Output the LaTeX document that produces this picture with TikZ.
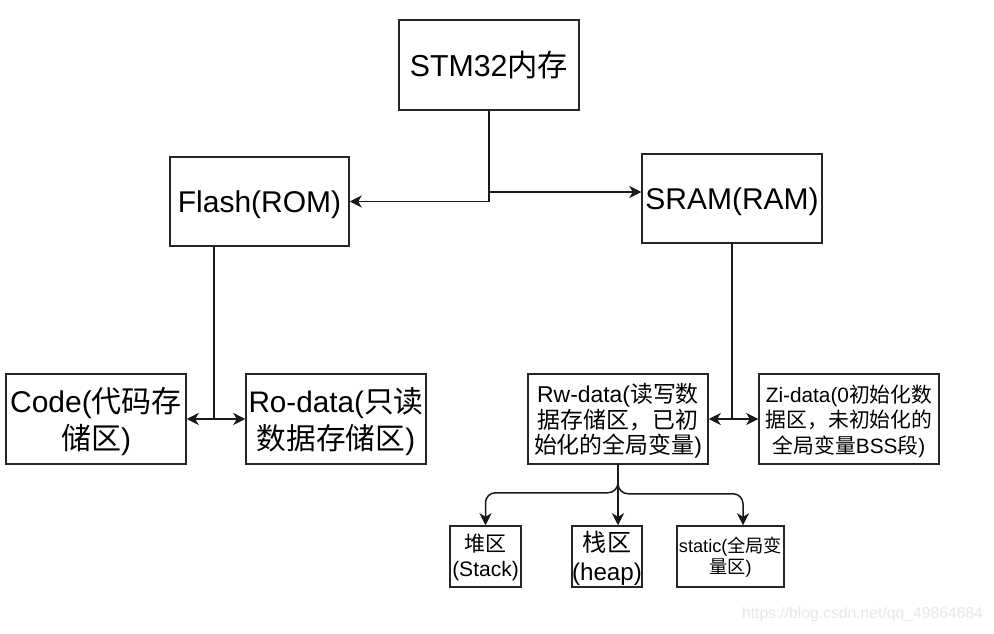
\documentclass[tikz,border=0pt]{standalone}
\usepackage{fontspec}
\setmainfont{Liberation Sans}
\newfontfamily\cjk{Noto Sans CJK SC}
\usetikzlibrary{arrows.meta}
\begin{document}
\begin{tikzpicture}[x=1pt,y=-1pt,
  box/.style={draw=black!85,line width=1.5pt,rectangle,inner sep=0pt},
  tx/.style n args={3}{font=\fontsize{#1}{#2}\selectfont,align=center,text=black,inner sep=0pt,yshift=#3},
  arr/.style={draw=black!90,line width=1.5pt,-{Stealth[length=12pt,width=12pt,inset=3.5pt]}}]
\useasboundingbox (0,0) rectangle (994,634);
\fill[white] (0,0) rectangle (994,634);
% top level
\node[box,minimum width=180pt,minimum height=90pt,
  label={[tx={30.3}{36}{-0.5pt}]center:STM32{\cjk 内存}}] (stm) at (489,65) {};
\node[box,minimum width=179pt,minimum height=89pt,
  label={[tx={30}{36}{-3pt}]center:Flash(ROM)}] (flash) at (259.5,201.5) {};
\node[box,minimum width=180pt,minimum height=89pt,
  label={[tx={30}{36}{-3pt}]center:SRAM(RAM)}] (sram) at (732,198.5) {};
% second level
\node[box,minimum width=180pt,minimum height=90pt,
  label={[tx={30}{37}{-2.5pt}]center:{Code({\cjk 代码存}\\{\cjk 储区})}}] (code) at (96,419) {};
\node[box,minimum width=180pt,minimum height=90pt,
  label={[tx={29.7}{37}{-2.5pt}]center:{Ro-data({\cjk 只读}\\{\cjk 数据存储区})}}] (ro) at (336,419) {};
\node[box,minimum width=180pt,minimum height=90pt,
  label={[tx={22.9}{25.5}{-2pt}]center:{Rw-data({\cjk 读写数}\\{\cjk 据存储区，已初}\\{\cjk 始化的全局变量})}}] (rw) at (618,419) {};
\node[box,minimum width=180pt,minimum height=90pt,
  label={[tx={20.8}{25.5}{-2pt}]center:{Zi-data(0{\cjk 初始化数}\\{\cjk 据区，未初始化的}\\{\cjk 全局变量}BSS{\cjk 段})}}] (zi) at (849,419) {};
% third level
\node[box,minimum width=71pt,minimum height=61pt,
  label={[tx={21}{25}{-1pt}]center:{{\cjk 堆区}\\(Stack)}}] (stack) at (485.5,556.5) {};
\node[box,minimum width=70pt,minimum height=61pt,
  label={[tx={24.2}{29}{-1.5pt}]center:{{\cjk 栈区}\\(heap)}}] (heap) at (607,556.5) {};
\node[box,minimum width=107pt,minimum height=61pt,
  label={[tx={18.2}{21}{-1pt}]center:{static({\cjk 全局变}\\{\cjk 量区})}}] (static) at (730.5,556.5) {};
% connectors
\coordinate (fdrop) at ([xshift=-45.5pt]flash.south);
\draw[arr] (stm.south) |- (flash.east);
\draw[arr] (stm.south) |- ([yshift=6.5pt]sram.west);
\draw[arr] (fdrop) |- (code.east);
\draw[arr] (fdrop) |- (ro.west);
\draw[arr] (sram.south) |- (rw.east);
\draw[arr] (sram.south) |- (zi.west);
\draw[arr,rounded corners=10pt] (rw.south) -- ++(0,28) -| (stack.north);
\draw[arr,rounded corners=10pt] (rw.south) -- ++(0,29) -| ([xshift=12.5pt]static.north);
\draw[arr] (rw.south) -- (rw.south |- heap.north);
% watermark
\node[text=black!9,font=\fontsize{15.7}{18}\selectfont,inner sep=0pt] (wm) at (862.5,614) {https://blog.csdn.net/qq\_49864684};
\end{tikzpicture}
\end{document}
